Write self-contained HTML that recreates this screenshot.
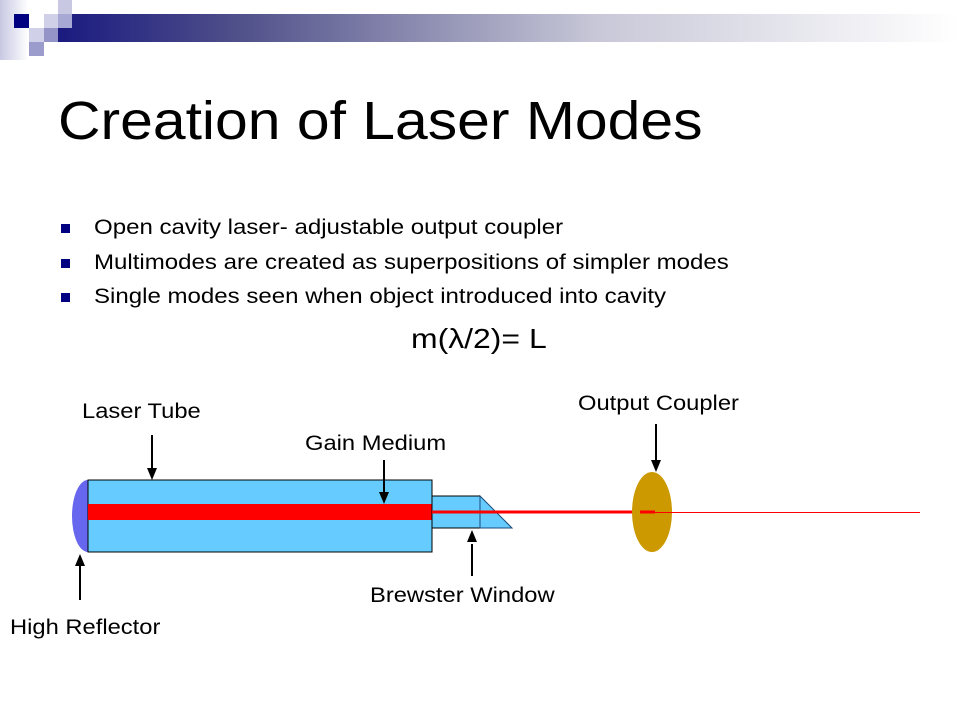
<!DOCTYPE html>
<html><head><meta charset="utf-8"><style>
body{margin:0;width:960px;height:720px;background:#fff;position:relative;overflow:hidden;font-family:"Liberation Sans",sans-serif;}
.a{position:absolute;}
.t{position:absolute;color:#000;white-space:nowrap;transform-origin:0 0;}
.b{font-size:21px;transform:scaleX(1.13);}
.c{font-size:21px;transform:scaleX(1.145);}
</style></head><body>
<div class="a" style="left:0;top:0;width:28px;height:60px;background:linear-gradient(90deg,#c8c8e4,#fff)"></div>
<div class="a" style="left:58px;top:0;width:14px;height:14px;background:#c8c8e2"></div>
<div class="a" style="left:14px;top:14px;width:15px;height:14px;background:#000080"></div>
<div class="a" style="left:29px;top:14px;width:15px;height:14px;background:#fff"></div>
<div class="a" style="left:44px;top:14px;width:14px;height:14px;background:#d0d0e8"></div>
<div class="a" style="left:58px;top:14px;width:900px;height:28px;background:linear-gradient(90deg,#1a1a80 0%,#50508a 20%,#c8c8d8 60%,#fff 100%)"></div>
<div class="a" style="left:58px;top:14px;width:14px;height:14px;background:#a8a8d4"></div>
<div class="a" style="left:29px;top:28px;width:15px;height:14px;background:#d0d0e8"></div>
<div class="a" style="left:44px;top:28px;width:14px;height:14px;background:#9494c8"></div>
<div class="a" style="left:29px;top:42px;width:15px;height:14px;background:#9c9ccc"></div>

<div class="t" style="left:58px;top:90px;font-size:54px;transform:scaleX(1.09);">Creation of Laser Modes</div>
<div class="a" style="left:61px;top:224px;width:9px;height:9px;background:#000080"></div>
<div class="a" style="left:61px;top:259px;width:9px;height:9px;background:#000080"></div>
<div class="a" style="left:61px;top:293px;width:9px;height:9px;background:#000080"></div>
<div class="t c" style="left:94px;top:216px;">Open cavity laser- adjustable output coupler</div>
<div class="t c" style="left:94px;top:251px;">Multimodes are created as superpositions of simpler modes</div>
<div class="t c" style="left:94px;top:285px;">Single modes seen when object introduced into cavity</div>
<div class="t" style="left:411px;top:323px;font-size:28px;transform:scaleX(1.14);">m(λ/2)= L</div>

<div class="t b" style="left:82px;top:400px;">Laser Tube</div>
<div class="t b" style="left:305px;top:432px;">Gain Medium</div>
<div class="t b" style="left:578px;top:392px;">Output Coupler</div>
<div class="t b" style="left:370px;top:584px;">Brewster Window</div>
<div class="t b" style="left:10px;top:616px;">High Reflector</div>

<svg class="a" style="left:0;top:0" width="960" height="720">
<path d="M88,480 A16,36 0 0 0 88,552 Z" fill="#6666ee"/>
<rect x="88" y="480" width="344" height="72" fill="#66ccff" stroke="#000" stroke-width="1"/>
<rect x="88" y="504" width="344" height="16" fill="#ff0000"/>
<rect x="432" y="496" width="48" height="32" fill="#66ccff" stroke="#000" stroke-width="1"/>
<path d="M480,496 L512,528 L480,528 Z" fill="#66ccff" stroke="#1a4a7a" stroke-width="1"/>
<line x1="432" y1="512" x2="655" y2="512" stroke="#ff0000" stroke-width="3"/>
<ellipse cx="652" cy="512" rx="20" ry="40" fill="#cc9900"/>
<line x1="640" y1="512" x2="655" y2="512" stroke="#ff0000" stroke-width="3"/>
<line x1="655" y1="512.5" x2="920" y2="512.5" stroke="#ff0000" stroke-width="1"/>
<g stroke="#000" stroke-width="2">
<line x1="152" y1="435" x2="152" y2="472"/>
<line x1="384" y1="460" x2="384" y2="496"/>
<line x1="656" y1="424" x2="656" y2="462"/>
<line x1="472" y1="544" x2="472" y2="576"/>
<line x1="80" y1="560" x2="80" y2="600"/>
</g>
<g fill="#000">
<path d="M147,468 L157,468 L152,480 Z"/>
<path d="M379,492 L389,492 L384,504 Z"/>
<path d="M651,460 L661,460 L656,472 Z"/>
<path d="M467,542 L477,542 L472,530 Z"/>
<path d="M75,566 L85,566 L80,554 Z"/>
</g>
</svg>
</body></html>
